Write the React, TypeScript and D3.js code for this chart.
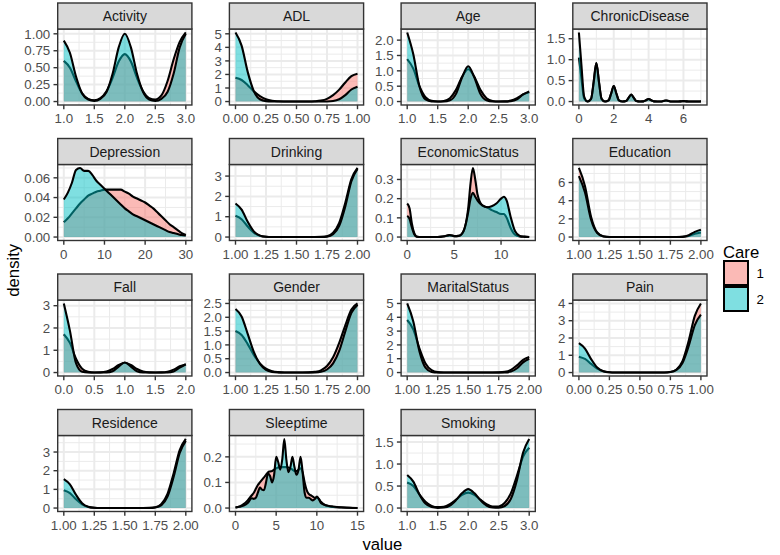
import React from "react";
import * as d3 from "d3";

// ---------- data ----------
const facetNames = ["Activity", "ADL", "Age", "ChronicDisease", "Depression", "Drinking", "EconomicStatus", "Education", "Fall", "Gender", "MaritalStatus", "Pain", "Residence", "Sleeptime", "Smoking"];
const careLevels = ["1", "2"];
const careColors = ["#F8766D", "#00BFC4"];

const step01_1to3 = [1.0, 1.1, 1.2, 1.3, 1.4, 1.5, 1.6, 1.7, 1.8, 1.9, 2.0, 2.1, 2.2, 2.3, 2.4, 2.5, 2.6, 2.7, 2.8, 2.9, 3.0];
const step005_0to1 = [0, 0.05, 0.1, 0.15, 0.2, 0.25, 0.3, 0.35, 0.4, 0.45, 0.5, 0.55, 0.6, 0.65, 0.7, 0.75, 0.8, 0.85, 0.9, 0.95, 1.0];
const step005_1to2 = [1.0, 1.05, 1.1, 1.15, 1.2, 1.25, 1.3, 1.35, 1.4, 1.45, 1.5, 1.55, 1.6, 1.65, 1.7, 1.75, 1.8, 1.85, 1.9, 1.95, 2.0];
const step01_0to2 = [0, 0.1, 0.2, 0.3, 0.4, 0.5, 0.6, 0.7, 0.8, 0.9, 1.0, 1.1, 1.2, 1.3, 1.4, 1.5, 1.6, 1.7, 1.8, 1.9, 2.0];

const activityCare1 = [0.60, 0.50, 0.30, 0.12, 0.04, 0.02, 0.05, 0.15, 0.35, 0.59, 0.70, 0.59, 0.35, 0.15, 0.05, 0.03, 0.09, 0.30, 0.62, 0.88, 1.02];
const activityCare2 = [0.90, 0.72, 0.37, 0.12, 0.03, 0.01, 0.04, 0.14, 0.41, 0.80, 1.00, 0.80, 0.41, 0.14, 0.03, 0.01, 0.04, 0.14, 0.41, 0.80, 1.00];

const adlCare1 = [1.75, 1.59, 1.21, 0.75, 0.40, 0.17, 0.06, 0.02, 0.005, 0, 0, 0, 0.002, 0.02, 0.07, 0.20, 0.47, 0.88, 1.41, 1.87, 2.05];
const adlCare2 = [5.1, 4.13, 2.19, 0.77, 0.17, 0.03, 0.005, 0, 0, 0, 0, 0, 0, 0, 0, 0.006, 0.04, 0.17, 0.47, 0.89, 1.1];

const ageCare1 = [1.38, 1.07, 0.50, 0.14, 0.023, 0.003, 0.02, 0.11, 0.38, 0.81, 1.05, 0.81, 0.38, 0.11, 0.02, 0.003, 0.005, 0.03, 0.11, 0.23, 0.30];
const ageCare2 = [2.25, 1.54, 0.50, 0.07, 0.005, 0, 0.002, 0.04, 0.25, 0.79, 1.15, 0.79, 0.25, 0.04, 0.002, 0, 0.001, 0.01, 0.07, 0.23, 0.33];

const chronicX = [0, 0.15, 0.3, 0.5, 0.7, 0.85, 1, 1.15, 1.3, 1.5, 1.7, 1.85, 2, 2.15, 2.3, 2.5, 2.7, 2.85, 3, 3.15, 3.3, 3.5, 3.7, 3.85, 4, 4.15, 4.3, 4.5, 4.7, 4.85, 5, 5.15, 5.3, 5.5, 5.7, 5.85, 6, 6.15, 6.3, 6.5, 6.7, 6.85, 7];
const chronicCare1 = [1.05, 0.54, 0.075, 0.002, 0.064, 0.47, 0.92, 0.47, 0.064, 0, 0.026, 0.19, 0.37, 0.19, 0.026, 0, 0.012, 0.087, 0.17, 0.087, 0.012, 0, 0.004, 0.031, 0.06, 0.031, 0.004, 0, 0.002, 0.013, 0.025, 0.013, 0.002, 0, 0.001, 0.005, 0.01, 0.005, 0.001, 0, 0.001, 0.002, 0.003];
const chronicCare2 = [1.65, 0.84, 0.12, 0.002, 0.064, 0.47, 0.92, 0.47, 0.064, 0, 0.026, 0.19, 0.37, 0.19, 0.026, 0, 0.012, 0.087, 0.17, 0.087, 0.012, 0, 0.004, 0.031, 0.06, 0.031, 0.004, 0, 0.002, 0.013, 0.025, 0.013, 0.002, 0, 0.001, 0.005, 0.01, 0.005, 0.001, 0, 0.001, 0.002, 0.003];

const depressionX = [0, 1, 2, 3, 4, 5, 6, 7, 8, 9, 10, 11, 12, 13, 14, 15, 16, 17, 18, 19, 20, 21, 22, 23, 24, 25, 26, 27, 28, 29, 30];
const depressionCare1 = [0.015, 0.019, 0.024, 0.029, 0.034, 0.038, 0.042, 0.044, 0.046, 0.047, 0.048, 0.048, 0.048, 0.048, 0.048, 0.046, 0.044, 0.041, 0.039, 0.037, 0.035, 0.032, 0.029, 0.025, 0.021, 0.017, 0.013, 0.010, 0.007, 0.004, 0.002];
const depressionCare2 = [0.038, 0.045, 0.055, 0.068, 0.070, 0.067, 0.067, 0.063, 0.057, 0.053, 0.049, 0.045, 0.041, 0.037, 0.033, 0.029, 0.026, 0.023, 0.021, 0.019, 0.017, 0.015, 0.013, 0.011, 0.009, 0.007, 0.005, 0.004, 0.003, 0.002, 0.0015];

const drinkingCare1 = [1.05, 0.88, 0.52, 0.22, 0.067, 0.014, 0.002, 0, 0, 0, 0, 0, 0, 0.001, 0.007, 0.04, 0.21, 0.70, 1.69, 2.85, 3.4];
const drinkingCare2 = [1.65, 1.35, 0.75, 0.28, 0.07, 0.012, 0, 0, 0, 0, 0, 0, 0, 0, 0.002, 0.02, 0.14, 0.55, 1.51, 2.75, 3.35];

const economicX = [0, 0.25, 0.5, 0.75, 1, 1.5, 2, 3, 3.5, 4, 4.5, 5, 5.5, 6, 6.25, 6.5, 6.75, 7, 7.25, 7.5, 8, 8.5, 9, 9.5, 10, 10.3, 10.6, 11, 11.5, 12, 12.5, 13];
const economicCare1 = [0.175, 0.15, 0.07, 0.02, 0.003, 0, 0, 0, 0.001, 0.004, 0.01, 0.005, 0.006, 0.03, 0.07, 0.15, 0.28, 0.36, 0.30, 0.22, 0.165, 0.155, 0.14, 0.13, 0.12, 0.12, 0.10, 0.05, 0.012, 0.003, 0.001, 0];
const economicCare2 = [0.11, 0.095, 0.05, 0.015, 0.002, 0, 0, 0, 0.001, 0.004, 0.01, 0.005, 0.006, 0.03, 0.07, 0.13, 0.20, 0.23, 0.21, 0.19, 0.165, 0.155, 0.16, 0.175, 0.20, 0.21, 0.19, 0.11, 0.03, 0.006, 0.002, 0];

const educationCare1 = [7.6, 5.6, 2.2, 0.5, 0.08, 0.01, 0, 0, 0, 0, 0, 0, 0, 0, 0, 0, 0.002, 0.02, 0.12, 0.36, 0.5];
const educationCare2 = [6.7, 4.9, 1.9, 0.44, 0.07, 0.01, 0, 0, 0, 0, 0, 0, 0, 0, 0, 0, 0.004, 0.035, 0.2, 0.57, 0.8];

const fallCare1 = [1.72, 1.33, 0.62, 0.17, 0.03, 0.005, 0.008, 0.045, 0.16, 0.34, 0.44, 0.34, 0.16, 0.045, 0.008, 0.002, 0.006, 0.036, 0.13, 0.28, 0.36];
const fallCare2 = [3.1, 1.88, 0.42, 0.035, 0.001, 0, 0.002, 0.005, 0.06, 0.27, 0.45, 0.27, 0.06, 0.005, 0, 0, 0, 0.005, 0.05, 0.22, 0.37];

const genderCare1 = [1.5, 1.36, 1.03, 0.64, 0.33, 0.14, 0.05, 0.015, 0.003, 0, 0, 0, 0.005, 0.025, 0.08, 0.235, 0.55, 1.07, 1.71, 2.28, 2.5];
const genderCare2 = [2.3, 2.03, 1.40, 0.75, 0.31, 0.10, 0.025, 0.005, 0, 0, 0, 0, 0, 0.005, 0.027, 0.11, 0.33, 0.78, 1.49, 2.16, 2.45];

const maritalCare1 = [3.8, 3.12, 1.75, 0.65, 0.17, 0.03, 0.005, 0, 0, 0, 0, 0, 0, 0, 0, 0.009, 0.05, 0.19, 0.52, 0.92, 1.12];
const maritalCare2 = [5.0, 3.7, 1.55, 0.35, 0.045, 0.003, 0, 0, 0, 0, 0, 0, 0, 0, 0, 0, 0.009, 0.07, 0.31, 0.74, 1.0];

const painCare1 = [0.92, 0.79, 0.50, 0.23, 0.08, 0.02, 0.004, 0, 0, 0, 0, 0, 0, 0, 0, 0.03, 0.18, 0.68, 1.84, 3.28, 4.0];
const painCare2 = [1.7, 1.39, 0.78, 0.29, 0.075, 0.014, 0.002, 0, 0, 0, 0, 0, 0, 0, 0, 0.027, 0.15, 0.57, 1.54, 2.75, 3.35];

const residenceCare1 = [0.95, 0.80, 0.47, 0.20, 0.06, 0.013, 0.002, 0, 0, 0, 0, 0, 0, 0, 0.007, 0.04, 0.22, 0.76, 1.85, 3.1, 3.7];
const residenceCare2 = [1.55, 1.27, 0.71, 0.26, 0.068, 0.012, 0, 0, 0, 0, 0, 0, 0, 0, 0, 0.029, 0.16, 0.61, 1.66, 2.95, 3.6];

const sleepX = [0, 0.5, 1, 1.5, 2, 2.25, 2.5, 2.75, 3, 3.25, 3.5, 3.75, 4, 4.25, 4.5, 4.75, 5, 5.25, 5.5, 5.75, 6, 6.25, 6.5, 6.75, 7, 7.25, 7.5, 7.75, 8, 8.25, 8.5, 8.75, 9, 9.25, 9.5, 9.75, 10, 10.25, 10.5, 11, 11.5, 12, 13, 14, 15];
const sleepCare1 = [0.002, 0.006, 0.015, 0.03, 0.05, 0.06, 0.075, 0.09, 0.10, 0.11, 0.12, 0.13, 0.14, 0.143, 0.145, 0.15, 0.155, 0.158, 0.16, 0.16, 0.16, 0.16, 0.158, 0.155, 0.15, 0.145, 0.145, 0.15, 0.155, 0.14, 0.10, 0.07, 0.055, 0.05, 0.045, 0.04, 0.04, 0.035, 0.025, 0.012, 0.007, 0.004, 0.002, 0.001, 0];
const sleepCare2 = [0.002, 0.005, 0.01, 0.02, 0.038, 0.036, 0.04, 0.06, 0.08, 0.072, 0.07, 0.10, 0.135, 0.125, 0.10, 0.13, 0.20, 0.18, 0.15, 0.19, 0.27, 0.19, 0.14, 0.16, 0.20, 0.16, 0.13, 0.15, 0.20, 0.14, 0.06, 0.04, 0.04, 0.035, 0.03, 0.035, 0.045, 0.035, 0.02, 0.012, 0.008, 0.006, 0.003, 0.001, 0];

const smokingCare1 = [0.58, 0.50, 0.31, 0.145, 0.05, 0.02, 0.03, 0.09, 0.19, 0.30, 0.35, 0.30, 0.19, 0.09, 0.035, 0.036, 0.12, 0.34, 0.74, 1.17, 1.37];
const smokingCare2 = [0.75, 0.60, 0.31, 0.10, 0.023, 0.005, 0.013, 0.058, 0.18, 0.34, 0.43, 0.34, 0.18, 0.058, 0.015, 0.01, 0.047, 0.21, 0.64, 1.26, 1.57];

// tick labels
const ticks_1to3 = ["1.0", "1.5", "2.0", "2.5", "3.0"];
const ticks_0to1 = ["0.00", "0.25", "0.50", "0.75", "1.00"];
const ticks_1to2 = ["1.00", "1.25", "1.50", "1.75", "2.00"];
const ticks_0to2 = ["0.0", "0.5", "1.0", "1.5", "2.0"];
const chronicXTicks = ["0", "2", "4", "6"];
const depressionXTicks = ["0", "10", "20", "30"];
const economicXTicks = ["0", "5", "10"];
const sleepXTicks = ["0", "5", "10", "15"];

const activityYTicks = ["0.00", "0.25", "0.50", "0.75", "1.00"];
const adlYTicks = ["0", "1", "2", "3", "4", "5"];
const ageYTicks = ["0.0", "0.5", "1.0", "1.5", "2.0"];
const chronicYTicks = ["0.0", "0.5", "1.0", "1.5"];
const depressionYTicks = ["0.00", "0.02", "0.04", "0.06"];
const drinkingYTicks = ["0", "1", "2", "3"];
const economicYTicks = ["0.0", "0.1", "0.2", "0.3"];
const educationYTicks = ["0", "2", "4", "6"];
const fallYTicks = ["0", "1", "2", "3"];
const genderYTicks = ["0.0", "0.5", "1.0", "1.5", "2.0", "2.5"];
const maritalYTicks = ["0", "1", "2", "3", "4", "5"];
const painYTicks = ["0", "1", "2", "3", "4"];
const residenceYTicks = ["0", "1", "2", "3"];
const sleepYTicks = ["0.0", "0.1", "0.2"];
const smokingYTicks = ["0.0", "0.5", "1.0", "1.5"];

type Facet = { name: string; x: number[]; c1: number[]; c2: number[]; xTicks: string[]; yTicks: string[] };

const facets: Facet[] = [
  { name: facetNames[0], x: step01_1to3, c1: activityCare1, c2: activityCare2, xTicks: ticks_1to3, yTicks: activityYTicks },
  { name: facetNames[1], x: step005_0to1, c1: adlCare1, c2: adlCare2, xTicks: ticks_0to1, yTicks: adlYTicks },
  { name: facetNames[2], x: step01_1to3, c1: ageCare1, c2: ageCare2, xTicks: ticks_1to3, yTicks: ageYTicks },
  { name: facetNames[3], x: chronicX, c1: chronicCare1, c2: chronicCare2, xTicks: chronicXTicks, yTicks: chronicYTicks },
  { name: facetNames[4], x: depressionX, c1: depressionCare1, c2: depressionCare2, xTicks: depressionXTicks, yTicks: depressionYTicks },
  { name: facetNames[5], x: step005_1to2, c1: drinkingCare1, c2: drinkingCare2, xTicks: ticks_1to2, yTicks: drinkingYTicks },
  { name: facetNames[6], x: economicX, c1: economicCare1, c2: economicCare2, xTicks: economicXTicks, yTicks: economicYTicks },
  { name: facetNames[7], x: step005_1to2, c1: educationCare1, c2: educationCare2, xTicks: ticks_1to2, yTicks: educationYTicks },
  { name: facetNames[8], x: step01_0to2, c1: fallCare1, c2: fallCare2, xTicks: ticks_0to2, yTicks: fallYTicks },
  { name: facetNames[9], x: step005_1to2, c1: genderCare1, c2: genderCare2, xTicks: ticks_1to2, yTicks: genderYTicks },
  { name: facetNames[10], x: step005_1to2, c1: maritalCare1, c2: maritalCare2, xTicks: ticks_1to2, yTicks: maritalYTicks },
  { name: facetNames[11], x: step005_0to1, c1: painCare1, c2: painCare2, xTicks: ticks_0to1, yTicks: painYTicks },
  { name: facetNames[12], x: step005_1to2, c1: residenceCare1, c2: residenceCare2, xTicks: ticks_1to2, yTicks: residenceYTicks },
  { name: facetNames[13], x: sleepX, c1: sleepCare1, c2: sleepCare2, xTicks: sleepXTicks, yTicks: sleepYTicks },
  { name: facetNames[14], x: step01_1to3, c1: smokingCare1, c2: smokingCare2, xTicks: ticks_1to3, yTicks: smokingYTicks },
];

// ---------- layout ----------
const W = 780, H = 555;
const FONT = "'Liberation Sans', Arial, Helvetica, sans-serif";
const L0 = 57.7, PITCH_X = 171.7, PANEL_W = 134.2;
const T0 = 3, PITCH_Y = 135.5, STRIP_H = 26, PANEL_H = 76;
const TICK_LEN = 4.2, TICK_FS = 13.3, STRIP_FS = 14, TITLE_FS = 16.7;

function minorBreaks(major: number[], lo: number, hi: number) {
  const out: number[] = [];
  if (major.length < 2) return out;
  const step = major[1] - major[0];
  out.push(major[0] - step / 2);
  for (let i = 0; i < major.length - 1; i++) out.push((major[i] + major[i + 1]) / 2);
  out.push(major[major.length - 1] + step / 2);
  return out.filter((v) => v > lo && v < hi);
}

function Panel({ f, i }: { f: Facet; i: number }) {
  const col = i % 4, row = Math.floor(i / 4);
  const left = L0 + col * PITCH_X, right = left + PANEL_W;
  const stripTop = T0 + row * PITCH_Y;
  const top = stripTop + STRIP_H, bottom = top + PANEL_H;
  const [xmin, xmax] = d3.extent(f.x) as [number, number];
  const xr = xmax - xmin;
  const xd: [number, number] = [xmin - 0.05 * xr, xmax + 0.05 * xr];
  const x = d3.scaleLinear().domain(xd).range([left, right]);
  const ymax = d3.max([...f.c1, ...f.c2]) as number;
  const yd: [number, number] = [-0.05 * ymax, 1.05 * ymax];
  const y = d3.scaleLinear().domain(yd).range([bottom, top]);
  const xt = f.xTicks.map(Number), yt = f.yTicks.map(Number);
  const xm = minorBreaks(xt, xd[0], xd[1]), ym = minorBreaks(yt, yd[0], yd[1]);

  const series = [f.c1, f.c2];
  const area = (vals: number[]) =>
    d3.area<number>().x((_, k) => x(f.x[k])).y0(y(0)).y1((v) => y(v)).curve(d3.curveMonotoneX)(vals) as string;
  const line = (vals: number[]) =>
    d3.line<number>().x((_, k) => x(f.x[k])).y((v) => y(v)).curve(d3.curveMonotoneX)(vals) as string;

  return (
    <g>
      <rect x={left} y={top} width={PANEL_W} height={PANEL_H} fill="#FFFFFF" />
      {xm.map((v) => <line key={"xm" + v} x1={x(v)} x2={x(v)} y1={top} y2={bottom} stroke="#EBEBEB" strokeWidth={1} />)}
      {ym.map((v) => <line key={"ym" + v} x1={left} x2={right} y1={y(v)} y2={y(v)} stroke="#EBEBEB" strokeWidth={1} />)}
      {xt.map((v) => <line key={"xM" + v} x1={x(v)} x2={x(v)} y1={top} y2={bottom} stroke="#EBEBEB" strokeWidth={2} />)}
      {yt.map((v) => <line key={"yM" + v} x1={left} x2={right} y1={y(v)} y2={y(v)} stroke="#EBEBEB" strokeWidth={2} />)}
      {series.map((vals, s) => (
        <g key={"s" + s}>
          <path d={area(vals)} fill={careColors[s]} fillOpacity={0.5} stroke="none" />
          <path d={line(vals)} fill="none" stroke="#000000" strokeWidth={2.1} strokeLinejoin="round" />
        </g>
      ))}
      <rect x={left} y={top} width={PANEL_W} height={PANEL_H} fill="none" stroke="#333333" strokeWidth={1.4} />
      <rect x={left} y={stripTop} width={PANEL_W} height={STRIP_H} fill="#D9D9D9" stroke="#333333" strokeWidth={1.4} />
      <text x={(left + right) / 2} y={stripTop + STRIP_H / 2 + 5} textAnchor="middle" fontSize={STRIP_FS} fill="#1A1A1A" fontFamily={FONT}>{f.name}</text>
      {xt.map((v, k) => (
        <g key={"xt" + v}>
          <line x1={x(v)} x2={x(v)} y1={bottom} y2={bottom + TICK_LEN} stroke="#333333" strokeWidth={1.4} />
          <text x={x(v)} y={bottom + 18} textAnchor="middle" fontSize={TICK_FS} fill="#4D4D4D" fontFamily={FONT}>{f.xTicks[k]}</text>
        </g>
      ))}
      {yt.map((v, k) => (
        <g key={"yt" + v}>
          <line x1={left - TICK_LEN} x2={left} y1={y(v)} y2={y(v)} stroke="#333333" strokeWidth={1.4} />
          <text x={left - TICK_LEN - 3.3} y={y(v) + 4.7} textAnchor="end" fontSize={TICK_FS} fill="#4D4D4D" fontFamily={FONT}>{f.yTicks[k]}</text>
        </g>
      ))}
    </g>
  );
}

export default function App() {
  const panelsLeft = L0, panelsRight = L0 + 3 * PITCH_X + PANEL_W;
  const panelsTop = T0 + STRIP_H, panelsBottom = T0 + 3 * PITCH_Y + STRIP_H + PANEL_H;
  const legX = 723, legTitleY = 258, keyTop = 260, keySize = 26;
  return (
    <svg width={W} height={H} viewBox={`0 0 ${W} ${H}`} style={{ position: "absolute", left: 0, top: 0, display: "block", background: "#FFFFFF" }}>
      <rect x={0} y={0} width={W} height={H} fill="#FFFFFF" />
      {facets.map((f, i) => <Panel key={f.name} f={f} i={i} />)}
      <text x={(panelsLeft + panelsRight) / 2} y={550} textAnchor="middle" fontSize={TITLE_FS} fill="#000000" fontFamily={FONT}>value</text>
      <text transform={`translate(13,${(panelsTop + panelsBottom) / 2}) rotate(-90)`} textAnchor="middle" dominantBaseline="central" fontSize={TITLE_FS} fill="#000000" fontFamily={FONT}>density</text>
      <text x={legX} y={legTitleY} fontSize={TITLE_FS} fill="#000000" fontFamily={FONT}>Care</text>
      {careLevels.map((lv, s) => (
        <g key={lv}>
          <rect x={legX} y={keyTop + s * keySize} width={keySize} height={keySize} fill="#FFFFFF" />
          <rect x={legX + 1} y={keyTop + s * keySize + 1} width={keySize - 2} height={keySize - 2} fill={careColors[s]} fillOpacity={0.5} stroke="#000000" strokeWidth={2} />
          <text x={legX + keySize + 7.5} y={keyTop + s * keySize + keySize / 2 + 4.7} fontSize={TICK_FS} fill="#000000" fontFamily={FONT}>{lv}</text>
        </g>
      ))}
    </svg>
  );
}
